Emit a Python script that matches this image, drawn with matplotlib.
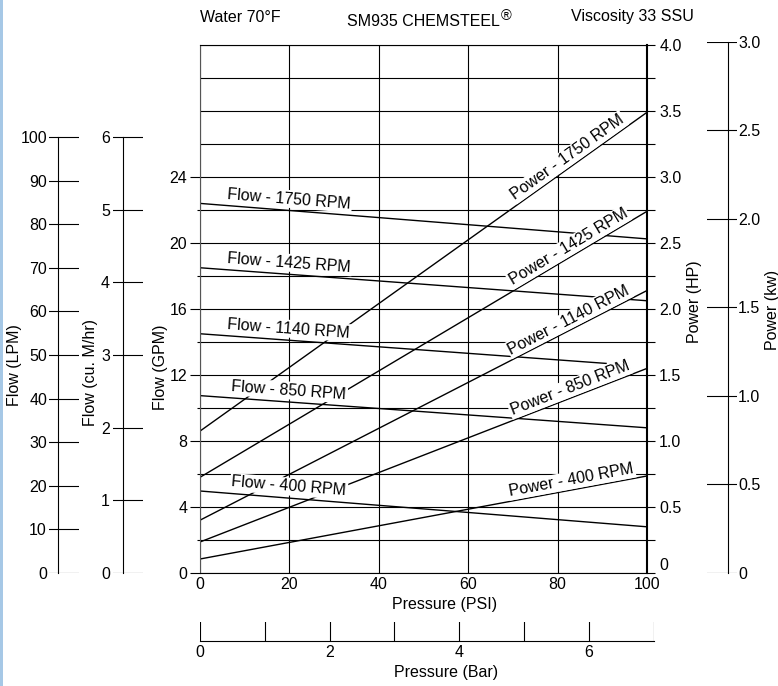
import math
import matplotlib
matplotlib.use('Agg')
import matplotlib.pyplot as plt
import matplotlib.ticker as mt
from matplotlib.patches import Rectangle

plt.rcParams['font.family'] = ['Liberation Sans', 'DejaVu Sans']
plt.rcParams['font.size'] = 11.5

# ---------------- data ----------------
pressure_psi = [0, 100]
rpm_labels = ['1750', '1425', '1140', '850', '400']
flow_gpm_start = [22.4, 18.5, 14.5, 10.75, 4.97]
flow_gpm_end = [20.25, 16.5, 12.7, 8.8, 2.8]
flow_end_psi = [100, 100, 91, 100, 100]
power_hp_start = [1.075, 0.725, 0.40, 0.235, 0.106]
power_hp_end = [3.49, 2.74, 2.14, 1.55, 0.735]

gpm_ticks = [0, 4, 8, 12, 16, 20, 24]
gpm_minor = [2, 6, 10, 14, 18, 22]
hp_ticks = [0, 0.5, 1.0, 1.5, 2.0, 2.5, 3.0, 3.5, 4.0]
hp_labels = ['0', '0.5', '1.0', '1.5', '2.0', '2.5', '3.0', '3.5', '4.0']
lpm_ticks = [0, 10, 20, 30, 40, 50, 60, 70, 80, 90, 100]
m3h_ticks = [0, 1, 2, 3, 4, 5, 6]
kw_ticks = [0, 0.5, 1.0, 1.5, 2.0, 2.5, 3.0]
kw_labels = ['0', '0.5', '1.0', '1.5', '2.0', '2.5', '3.0']
psi_ticks = [0, 20, 40, 60, 80, 100]
bar_ticks = [0, 1, 2, 3, 4, 5, 6, 7]
bar_labels = ['0', '', '2', '', '4', '', '6', '']

GPM_TO_LPM = 3.78541
GPM_TO_M3H = 0.227125
GPM_PER_HP = 8.0          # chart design: 4 GPM per 0.5 HP
HP_TO_KW = 0.7457
PSI_PER_BAR = 14.5038
GPM_MAX = 32

W, H = 778, 686
fig = plt.figure(figsize=(W / 100, H / 100), dpi=100)
fig.patch.set_facecolor('white')


def rect(x0, y0, x1, y1):
    return [x0 / W, 1 - y1 / H, (x1 - x0) / W, (y1 - y0) / H]


PX = 0.72  # points per pixel
LW = 0.8
FS = 11.5
AX_L, AX_R, AX_T, AX_B = 200, 647, 45, 573

ax = fig.add_axes(rect(AX_L, AX_T, AX_R, AX_B))
ax.set_xlim(0, 100)
ax.set_ylim(0, GPM_MAX)
ax2 = ax.twinx()
ax2.set_ylim(0, GPM_MAX / GPM_PER_HP)
ax.set_zorder(ax2.get_zorder() + 1)
ax.patch.set_visible(False)

# main axis ticks
ax.set_yticks(gpm_ticks)
ax.set_yticks(gpm_minor, minor=True)
ax.set_xticks(psi_ticks)
ax.tick_params(axis='y', which='major', length=10 * PX, width=LW, pad=2, labelsize=FS)
ax.tick_params(axis='y', which='minor', length=3 * PX, width=LW)
ax.tick_params(axis='x', length=0, pad=3, labelsize=FS)
ax.grid(axis='x', color='k', lw=LW)
for s in ['left', 'top', 'bottom']:
    ax.spines[s].set_linewidth(LW)
ax.spines['left'].set_color('#555555')
ax.spines['right'].set_linewidth(1.5)
for s in ax2.spines.values():
    s.set_visible(False)

ax2.set_yticks(hp_ticks, hp_labels)
ax2.yaxis.set_minor_locator(mt.MultipleLocator(0.25))
ax2.tick_params(axis='y', which='both', length=8 * PX, width=LW, pad=3, labelsize=FS)
ax2.grid(axis='y', which='both', color='k', lw=LW)
for lbl in ax2.get_yticklabels():
    if lbl.get_text() == '0':
        lbl.set_verticalalignment('bottom')

# curves
for i in range(len(rpm_labels)):
    ax.plot([pressure_psi[0], flow_end_psi[i]], [flow_gpm_start[i], flow_gpm_end[i]],
            color='k', lw=1.0, solid_capstyle='butt')
    ax2.plot(pressure_psi, [power_hp_start[i], power_hp_end[i]], color='k', lw=1.0,
             solid_capstyle='butt')


def line_label(trans, x0, y0, x1, y1, at_x, text, gap_px):
    p0 = trans.transform((x0, y0))
    p1 = trans.transform((x1, y1))
    ang = math.atan2(p1[1] - p0[1], p1[0] - p0[0])
    y_at = y0 + (y1 - y0) * (at_x - x0) / (x1 - x0)
    g = gap_px * PX
    ax.annotate(text, xy=(at_x, y_at), xycoords=trans,
                xytext=(-math.sin(ang) * g, math.cos(ang) * g), textcoords='offset points',
                rotation=math.degrees(ang), rotation_mode='anchor', ha='center', va='bottom',
                fontsize=11.5, zorder=6, annotation_clip=False,
                bbox=dict(fc='white', ec='none', pad=1.0))


for i, r in enumerate(rpm_labels):
    line_label(ax.transData, pressure_psi[0], flow_gpm_start[i], flow_end_psi[i], flow_gpm_end[i],
               19.7, f'Flow - {r} RPM', 4)
    line_label(ax2.transData, pressure_psi[0], power_hp_start[i], pressure_psi[1], power_hp_end[i],
               83.5, f'Power - {r} RPM', 2)


def side_axis(x_left, x_right, spine_x, top_px, bottom_px, ylim, ticks, labels, side, pad_px):
    a = fig.add_axes(rect(x_left, top_px, x_right, bottom_px))
    a.set_xlim(0, 1)
    a.set_ylim(*ylim)
    a.patch.set_visible(False)
    for s in a.spines.values():
        s.set_visible(False)
    sp = a.spines[side]
    sp.set_visible(True)
    sp.set_linewidth(LW)
    sp.set_position(('axes', (spine_x - x_left) / (x_right - x_left)))
    sp.set_bounds(ticks[0], ticks[-1])
    a.set_xticks([])
    a.set_yticks(ticks, labels)
    if side == 'right':
        a.yaxis.tick_right()
    a.tick_params(axis='y', length=0, pad=pad_px * PX, labelsize=FS)
    a.grid(axis='y', color='k', lw=LW)
    return a


side_axis(49, 79, 58, AX_T, AX_B, (0, GPM_MAX * GPM_TO_LPM), lpm_ticks,
          [str(t) for t in lpm_ticks], 'left', 11)
side_axis(113, 143, 123, AX_T, AX_B, (0, GPM_MAX * GPM_TO_M3H), m3h_ticks,
          [str(t) for t in m3h_ticks], 'left', 13)
kw_top_val = kw_ticks[-1]
kw_full = GPM_MAX / GPM_PER_HP * HP_TO_KW
kw_top_px = AX_B - (AX_B - AX_T) * kw_top_val / kw_full
side_axis(707, 737, 728, kw_top_px, AX_B, (0, kw_top_val), kw_ticks, kw_labels, 'right', 10)

# bar axis
bar_right = AX_L + (AX_R - AX_L) * bar_ticks[-1] * PSI_PER_BAR / 100
bx = fig.add_axes(rect(AX_L, 622, bar_right, 641))
bx.set_xlim(bar_ticks[0], bar_ticks[-1])
bx.set_ylim(0, 1)
bx.patch.set_visible(False)
for s in bx.spines.values():
    s.set_visible(False)
bx.spines['bottom'].set_visible(True)
bx.spines['bottom'].set_linewidth(LW)
bx.set_yticks([])
bx.set_xticks(bar_ticks, bar_labels)
bx.tick_params(axis='x', length=0, pad=3, labelsize=FS)
bx.grid(axis='x', color='k', lw=LW)

# axis titles
fig.text(15 / W, 1 - 365 / H, 'Flow (LPM)', rotation=90, ha='center', va='center', fontsize=FS)
fig.text(90 / W, 1 - 372 / H, 'Flow (cu. M/hr)', rotation=90, ha='center', va='center', fontsize=FS)
fig.text(160 / W, 1 - 367 / H, 'Flow (GPM)', rotation=90, ha='center', va='center', fontsize=FS)
fig.text(694 / W, 1 - 302 / H, 'Power (HP)', rotation=90, ha='center', va='center', fontsize=FS)
fig.text(772 / W, 1 - 310 / H, 'Power (kw)', rotation=90, ha='center', va='center', fontsize=FS)
fig.text(445 / W, 1 - 604 / H, 'Pressure (PSI)', ha='center', va='center', fontsize=FS)
fig.text(446 / W, 1 - 672 / H, 'Pressure (Bar)', ha='center', va='center', fontsize=FS)

fig.text(200 / W, 1 - 17 / H, 'Water 70°F', ha='left', va='center', fontsize=FS)
t_main = fig.text(347 / W, 1 - 21 / H, 'SM935 CHEMSTEEL', ha='left', va='center', fontsize=FS)
ax.annotate('®', xy=(1.0, 0.85), xycoords=t_main, xytext=(0.5, 0), textcoords='offset points',
            ha='left', va='center', fontsize=10.5, annotation_clip=False)
fig.text(571 / W, 1 - 17 / H, 'Viscosity 33 SSU', ha='left', va='center', fontsize=FS)

fig.add_artist(Rectangle((0, 0), 3 / W, 1, transform=fig.transFigure, color='#a6c8e6', lw=0))

fig.savefig('out.png', dpi=100)
